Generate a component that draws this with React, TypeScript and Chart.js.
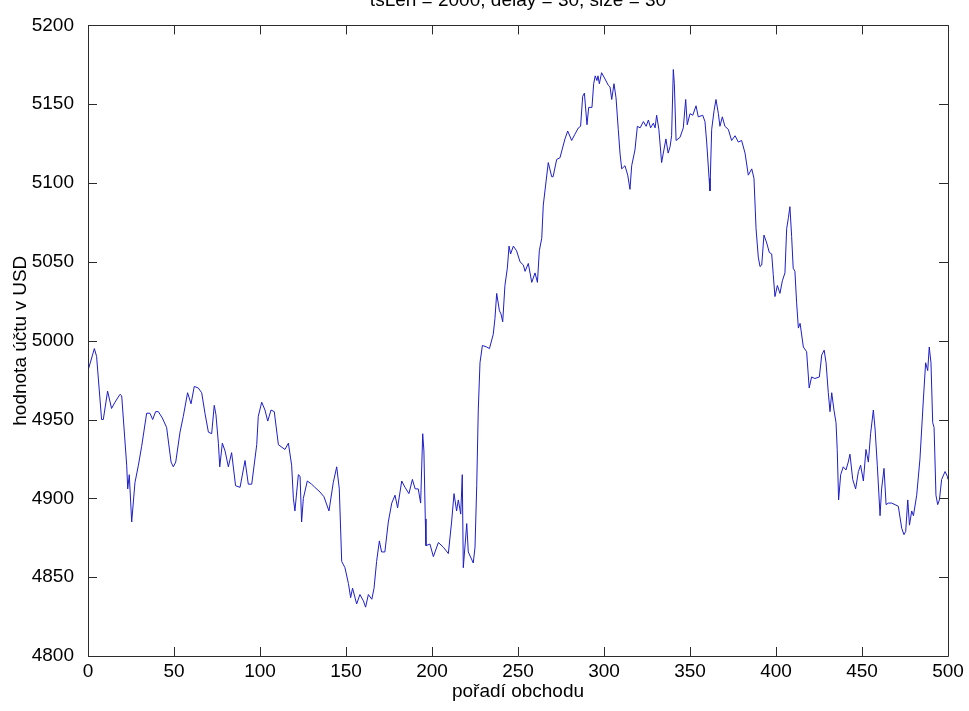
import React, { useEffect, useRef } from "react";
import { Chart, registerables } from "chart.js";

Chart.register(...registerables);

const chartTitle = "tsLen = 2000, delay = 30, size = 30";
const xAxisTitle = "pořadí obchodu";
const yAxisTitle = "hodnota účtu v USD";

const xTicks = [0, 50, 100, 150, 200, 250, 300, 350, 400, 450, 500];
const yTicks = [4800, 4850, 4900, 4950, 5000, 5050, 5100, 5150, 5200];

const tradeIndex = [
  0, 3.7, 5, 7.9, 8.9, 11.4, 13.7, 15.7, 18.6, 19.6, 22.5, 23.1, 24, 25.4, 27.3, 29.3, 31.2, 34.1, 36, 37.6,
  39.3, 40.9, 43.2, 45.7, 48.3, 49.6, 51, 53.5, 55.4, 57.9, 59.9, 61.8, 64.1, 66.1, 68, 70, 71.9, 73.4, 74.4, 75.8,
  76.6, 78.1, 79.7, 81.6, 83.5, 85.8, 88.4, 91.3, 93.2, 95.2, 98.1, 99, 101, 102.9, 104.5, 106.4, 108.3, 110.7, 114.5, 116.5,
  118.4, 119.4, 120.3, 122.3, 123.3, 124.2, 125.2, 127.5, 130, 131.9, 134.9, 137.2, 140.1, 142.6, 144.6, 146.1, 147.5, 149.4, 151.4, 152.7,
  153.8, 156.2, 158.1, 160.1, 161.4, 163, 165, 166.3, 167.8, 169.4, 170.7, 172.6, 174.6, 176.6, 178.5, 180, 182.4, 184.3, 186.6, 188.6,
  190.2, 192, 193.4, 194.6, 195.3, 196.1, 196.5, 198.8, 200.8, 203.7, 206.6, 209.5, 211.4, 212.8, 214.3, 215.3, 216.7, 217.6, 218.2, 220.2,
  221.1, 224, 225, 226, 226.9, 227.9, 229.3, 231.8, 233.4, 235.6, 236.6, 237.6, 239.2, 240.1, 241.1, 242.4, 243.8, 244.8, 245.7, 247.3,
  249.2, 251.2, 253.1, 254.1, 256, 258, 259.9, 261.3, 262.4, 263.8, 264.7, 267.6, 269.6, 270.4, 272.5, 274.4, 277.3, 278.9, 281.2, 283.1,
  285.1, 286.4, 287.6, 288.6, 290.1, 291.1, 293, 294, 294.9, 295.9, 296.5, 297.3, 298.6, 300.6, 302.5, 303.5, 304.5, 305.8, 307, 308.3,
  309.3, 310.3, 312.2, 313.8, 315.1, 316.1, 318, 319.4, 321, 322.9, 324.5, 325.8, 327.1, 328.7, 329.7, 330.6, 331.9, 333.5, 334.5, 336,
  337.3, 338.4, 339.3, 340.3, 340.9, 341.9, 344.2, 346.1, 347.5, 348.4, 350, 351.6, 353.5, 354.8, 357.4, 358.7, 359.7, 361.1, 361.6, 362.6,
  364, 365.1, 366.5, 367.4, 368.8, 370.3, 372.3, 374.2, 376.2, 378.1, 380, 382, 383.9, 385.9, 387.2, 388.4, 389.7, 390.7, 391.7, 393,
  394.6, 396.1, 397.5, 398.4, 399.4, 400.8, 402.3, 403.7, 405.2, 406.2, 407.2, 408.1, 409.1, 410, 411, 412, 413, 414, 415.9, 417.8,
  419.3, 420.7, 422.6, 425.2, 426.6, 428, 429.1, 430.4, 431.4, 432.4, 433.7, 434.9, 435.6, 436.4, 437.6, 439.1, 440.7, 442, 443, 444.6,
  446.3, 447.9, 449.2, 450.8, 452.3, 453.7, 455, 456.6, 457.6, 458.9, 460.5, 461.4, 462.8, 464, 465.3, 467.3, 469.2, 471.1, 473.1, 474.4,
  475.4, 476.6, 477.6, 478.9, 479.9, 481.8, 483.7, 485.7, 487, 488.2, 489.1, 490.1, 491.1, 491.9, 493, 494, 495, 496.3, 498.3, 499.6,
  500,
];

const accountValue = [
  4981, 4995, 4990, 4950, 4950, 4968, 4957, 4961, 4966, 4965, 4921, 4906, 4915, 4885, 4910, 4921, 4933, 4954, 4954, 4950,
  4955, 4955, 4951, 4945, 4923, 4920, 4923, 4942, 4952, 4967, 4960, 4971, 4970, 4967, 4954, 4942, 4941, 4959, 4953, 4935,
  4920, 4935, 4930, 4920, 4929, 4908, 4907, 4924, 4909, 4909, 4934, 4952, 4961, 4956, 4949, 4956, 4955, 4934, 4931, 4935,
  4921, 4900, 4892, 4915, 4914, 4885, 4900, 4911, 4909, 4907, 4904, 4901, 4892, 4910, 4920, 4906, 4860, 4856, 4846, 4837,
  4843, 4833, 4839, 4835, 4831, 4839, 4836, 4843, 4860, 4873, 4866, 4866, 4885, 4897, 4902, 4894, 4911, 4907, 4903, 4912,
  4906, 4906, 4897, 4941, 4930, 4887, 4870, 4871, 4863, 4872, 4869, 4865, 4885, 4903, 4892, 4899, 4890, 4915, 4856, 4884,
  4866, 4859, 4869, 4908, 4956, 4986, 4997, 4996, 4995, 5004, 5014, 5030, 5019, 5017, 5012, 5035, 5046, 5060, 5055, 5060,
  5057, 5050, 5048, 5044, 5049, 5037, 5043, 5037, 5057, 5065, 5086, 5113, 5104, 5104, 5115, 5116, 5128, 5133, 5127, 5131,
  5135, 5136, 5155, 5157, 5137, 5148, 5148, 5163, 5168, 5165, 5168, 5163, 5170, 5166, 5162, 5161, 5153, 5163, 5154, 5134,
  5119, 5109, 5111, 5105, 5096, 5111, 5121, 5136, 5135, 5139, 5136, 5140, 5135, 5138, 5135, 5143, 5134, 5113, 5119, 5128,
  5119, 5123, 5130, 5172, 5163, 5127, 5129, 5135, 5153, 5137, 5144, 5143, 5149, 5142, 5143, 5139, 5126, 5103, 5095, 5134,
  5146, 5153, 5144, 5136, 5142, 5136, 5134, 5127, 5130, 5126, 5127, 5119, 5105, 5109, 5103, 5071, 5053, 5047, 5048, 5067,
  5062, 5056, 5055, 5042, 5028, 5035, 5030, 5038, 5043, 5071, 5078, 5085, 5066, 5046, 5044, 5024, 5008, 5011, 4996, 4993,
  4970, 4977, 4976, 4977, 4991, 4994, 4986, 4967, 4955, 4967, 4956, 4948, 4931, 4899, 4915, 4920, 4918, 4923, 4928, 4912,
  4906, 4917, 4921, 4911, 4931, 4923, 4941, 4956, 4944, 4921, 4889, 4906, 4919, 4896, 4897, 4897, 4896, 4895, 4881, 4877,
  4879, 4899, 4883, 4892, 4889, 4902, 4925, 4963, 4986, 4981, 4996, 4986, 4948, 4945, 4902, 4896, 4899, 4912, 4917, 4914,
  4912,
];

const FONT = '"Liberation Sans", Arial, Helvetica, sans-serif';

const boxPlugin = {
  id: "matlabBox",
  afterDraw(chart: any) {
    const { ctx, chartArea } = chart;
    const { left, right, top, bottom } = chartArea;
    const xs = chart.scales.x;
    const ys = chart.scales.y;
    const tl = 9;
    ctx.save();
    ctx.strokeStyle = "#2b2b2b";
    ctx.lineWidth = 1;
    ctx.beginPath();
    ctx.rect(Math.round(left) + 0.5, Math.round(top) + 0.5, Math.round(right - left), Math.round(bottom - top));
    xTicks.forEach((t) => {
      const px = Math.round(xs.getPixelForValue(t)) + 0.5;
      ctx.moveTo(px, bottom);
      ctx.lineTo(px, bottom - tl);
      ctx.moveTo(px, top);
      ctx.lineTo(px, top + tl);
    });
    yTicks.forEach((t) => {
      const py = Math.round(ys.getPixelForValue(t)) + 0.5;
      ctx.moveTo(left, py);
      ctx.lineTo(left + tl, py);
      ctx.moveTo(right, py);
      ctx.lineTo(right - tl, py);
    });
    ctx.stroke();
    ctx.fillStyle = "#000";
    ctx.font = `19px ${FONT}`;
    ctx.textAlign = "center";
    ctx.textBaseline = "alphabetic";
    ctx.fillText(chartTitle, (left + right) / 2, 6);
    ctx.restore();
  },
};

export default function App() {
  const ref = useRef<HTMLCanvasElement | null>(null);

  useEffect(() => {
    if (!ref.current) return;
    const points = tradeIndex.map((x, i) => ({ x, y: accountValue[i] }));
    const chart = new Chart(ref.current, {
      type: "line",
      data: {
        datasets: [
          {
            data: points,
            borderColor: "rgb(30,30,200)",
            borderWidth: 1,
            pointRadius: 0,
            tension: 0,
            fill: false,
          },
        ],
      },
      options: {
        responsive: false,
        animation: false,
        layout: { padding: { top: 18, right: 21, left: 0, bottom: 0 } },
        plugins: {
          legend: { display: false },
          tooltip: { enabled: false },
          title: { display: false },
        },
        scales: {
          x: {
            type: "linear",
            min: 0,
            max: 500,
            afterBuildTicks: (s: any) => {
              s.ticks = xTicks.map((v) => ({ value: v }));
            },
            afterFit: (s: any) => {
              s.height = 55;
            },
            grid: { display: false, drawTicks: false },
            border: { display: false },
            ticks: {
              color: "#000",
              font: { family: FONT, size: 19 },
              padding: 4,
              maxRotation: 0,
              autoSkip: false,
              callback: (v: any) => String(v),
            },
            title: {
              display: true,
              text: xAxisTitle,
              color: "#000",
              font: { family: FONT, size: 19 },
              padding: { top: 0, bottom: 8 },
            },
          },
          y: {
            type: "linear",
            min: 4800,
            max: 5200,
            afterBuildTicks: (s: any) => {
              s.ticks = yTicks.map((v) => ({ value: v }));
            },
            afterFit: (s: any) => {
              s.width = 88;
            },
            grid: { display: false, drawTicks: false },
            border: { display: false },
            ticks: {
              color: "#000",
              font: { family: FONT, size: 19 },
              padding: 14,
              autoSkip: false,
              callback: (v: any) => String(v),
            },
            title: {
              display: true,
              text: yAxisTitle,
              color: "#000",
              font: { family: FONT, size: 19 },
              padding: { top: 9, bottom: 0 },
            },
          },
        },
      },
      plugins: [boxPlugin],
    });
    return () => chart.destroy();
  }, []);

  return (
    <div style={{ position: "absolute", left: 0, top: 0, width: 969, height: 711, background: "#fff" }}>
      <canvas ref={ref} width={969} height={711} style={{ display: "block" }} />
    </div>
  );
}
